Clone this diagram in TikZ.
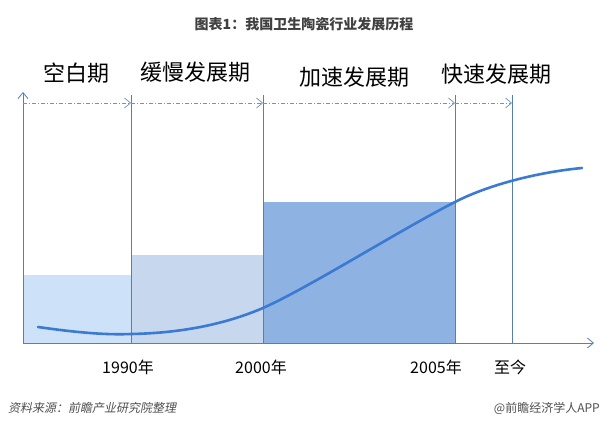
\documentclass[tikz,border=0pt]{standalone}
\usepackage{fontspec}
\setmainfont{Noto Sans CJK SC}
\newfontfamily\cjk{Noto Sans CJK SC}
\newfontfamily\cjkslant[FakeSlant=0.2]{Noto Sans CJK SC}
\usetikzlibrary{arrows.meta}
\definecolor{barA}{HTML}{CDE1F8}
\definecolor{barB}{HTML}{C6D7EE}
\definecolor{barC}{HTML}{8EB3E2}
\definecolor{axisc}{HTML}{5680B0}
\definecolor{dashc}{HTML}{6F93BE}
\definecolor{curvec}{HTML}{3B7AD2}
\definecolor{titlec}{HTML}{404040}
\definecolor{footc}{HTML}{505050}
\tikzset{
  vline/.style={draw=axisc, line width=0.8pt},
  axisline/.style={draw=axisc, line width=0.8pt, -{Straight Barb[length=6pt,width=10pt]}},
  period/.style={draw=dashc, line width=0.7pt, dash pattern=on 4pt off 2pt on 1pt off 2pt, -{Straight Barb[length=6pt,width=10pt]}},
  phase/.style={font=\fontsize{22}{24}\selectfont, text=black, inner sep=0pt},
  year/.style={font=\fontsize{16}{18}\selectfont, text=black, inner sep=0pt},
  foot/.style={font=\fontsize{12}{14}\selectfont, text=footc, inner sep=0pt},
  curve/.style={draw=curvec, line width=2.6pt, line cap=round}
}
\begin{document}
\begin{tikzpicture}[x=1pt,y=-1pt]
\useasboundingbox[fill=white] (0,0) rectangle (609,427);
% title
\node[font=\bfseries\fontsize{14}{16}\selectfont, text=titlec, inner sep=0pt] (title) at (304,24) {图表1：我国卫生陶瓷行业发展历程};
% bars
\fill[barA] (23,275) rectangle (131,343);
\fill[barB] (131,255) rectangle (263,343);
\fill[barC] (263,202) rectangle (455,343);
% coordinates
\coordinate (o) at (23,343);
\coordinate (ytop) at (23,92);
\coordinate (xend) at (594,343);
\coordinate (t1) at (131,95); \coordinate (b1) at (131,343);
\coordinate (t2) at (263,95); \coordinate (b2) at (263,343);
\coordinate (t3) at (455,95); \coordinate (b3) at (455,343);
\coordinate (t4) at (512,95); \coordinate (b4) at (512,343);
\coordinate (p0) at (23,103);
\coordinate (p1) at (131,103);
\coordinate (p2) at (263,103);
\coordinate (p3) at (455,103);
\coordinate (p4) at (512,103);
% vertical lines
\draw[vline] (t1) -- (b1);
\draw[vline] (t2) -- (b2);
\draw[vline] (t3) -- (b3);
\draw[vline] (t4) -- (b4);
% axes
\draw[axisline] (o) -- (ytop);
\draw[axisline] (o) -- (xend);
% period arrows
\draw[period] (p0) -- (p1);
\draw[period] (p1) -- (p2);
\draw[period] (p2) -- (p3);
\draw[period] (p3) -- (p4);
% curve
\coordinate (c0) at (38,327);
\coordinate (c1) at (131,334);
\coordinate (c2) at (263,308);
\coordinate (c3) at (455,202);
\coordinate (c4) at (582,168);
\draw[curve] (c0) .. controls (80,333) and (108,335) .. (c1)
  .. controls (185,333) and (228,323) .. (c2)
  .. controls (310,287) and (400,230) .. (c3)
  .. controls (490,184) and (540,172) .. (c4);
% phase labels
\node[phase] (ph1) at (76,73) {空白期};
\node[phase] (ph2) at (195,72) {缓慢发展期};
\node[phase] (ph3) at (354,77) {加速发展期};
\node[phase] (ph4) at (496,74) {快速发展期};
% year labels
\node[year] (y1) at (128,367) {1990年};
\node[year] (y2) at (261,367) {2000年};
\node[year] (y3) at (436,367) {2005年};
\node[year] (y4) at (510,367) {至今};
% footer
\node[foot, anchor=west] (src) at (8,408) {\cjkslant 资料来源：前瞻产业研究院整理};
\node[foot, anchor=east] (brand) at (600,408) {@前瞻经济学人APP};
\end{tikzpicture}
\end{document}
